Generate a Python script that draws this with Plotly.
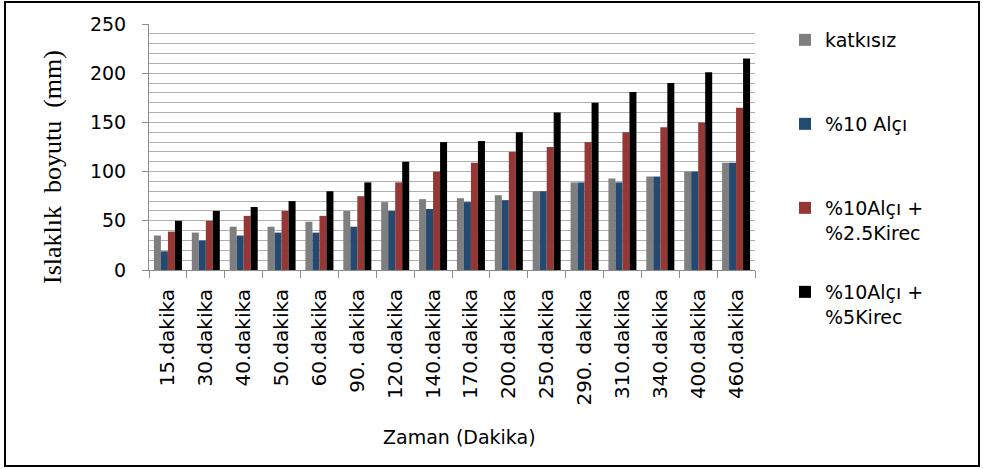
import plotly.graph_objects as go

categories = ["15.dakika", "30.dakika", "40.dakika", "50.dakika", "60.dakika", "90. dakika",
              "120.dakika", "140.dakika", "170.dakika", "200.dakika", "250.dakika", "290. dakika",
              "310.dakika", "340.dakika", "400.dakika", "460.dakika"]

katkisiz = [35, 38, 44, 44, 49, 60, 69, 72, 73, 76, 80, 89, 93, 95, 100, 109]
alci10 = [19, 30, 35, 38, 38, 44, 60, 62, 69, 71, 80, 89, 89, 95, 100, 109]
alci_kirec25 = [39, 50, 55, 60, 55, 75, 89, 100, 109, 120, 125, 130, 140, 145, 150, 165]
alci_kirec5 = [50, 60, 64, 70, 80, 89, 110, 130, 131, 140, 160, 170, 181, 190, 201, 215]

series_names = ["katkısız", "%10 Alçı", "%10Alçı +<br>%2.5Kirec", "%10Alçı +<br>%5Kirec"]
series_values = [katkisiz, alci10, alci_kirec25, alci_kirec5]
series_colors = ["#7f7f7f", "#254a72", "#953735", "#000000"]
legend_ids = ["legend", "legend2", "legend3", "legend4"]

W, H = 983, 469
L, R, T, B = 149, 755, 24, 270
pw, ph = R - L, B - T

def px_x(x):
    return (x - L) / pw

def px_y(y):
    return (B - y) / ph

fig = go.Figure()
for name, vals, col, lg in zip(series_names, series_values, series_colors, legend_ids):
    fig.add_trace(go.Bar(x=categories, y=vals, name=name, marker_color=col,
                         marker_line_width=0, legend=lg))

font_main = "DejaVu Sans"
legend_tops = [21, 105, 189, 273]
legend_common = dict(x=px_x(785), xanchor="left", yanchor="top", valign="top",
                     bgcolor="rgba(0,0,0,0)", borderwidth=0, itemwidth=30,
                     font=dict(family=font_main, size=19, color="#000000"))

layout_legends = {}
for lg, top in zip(legend_ids, legend_tops):
    layout_legends[lg] = dict(y=px_y(top), **legend_common)

fig.update_layout(
    width=W, height=H,
    margin=dict(l=L, r=W - R, t=T, b=H - B, autoexpand=False),
    paper_bgcolor="white", plot_bgcolor="white",
    barmode="group", bargap=0.26, bargroupgap=0,
    showlegend=True,
    font=dict(family=font_main, size=19, color="#000000"),
    xaxis=dict(type="category", tickson="boundaries", ticks="outside", ticklen=7,
               tickcolor="#8c8c8c", showline=True, linecolor="#8c8c8c", linewidth=1,
               tickangle=-90, showgrid=False, ticklabelstandoff=10,
               tickfont=dict(family=font_main, size=20, color="#000000")),
    yaxis=dict(range=[0, 250], dtick=50, tick0=0, ticks="outside", ticklen=6,
               tickcolor="#8c8c8c", showline=True, linecolor="#8c8c8c", linewidth=1,
               showgrid=True, gridcolor="#b0b0b0", gridwidth=1, zeroline=False,
               ticklabelstandoff=12,
               minor=dict(dtick=10, showgrid=True, gridcolor="#b0b0b0", gridwidth=1),
               tickfont=dict(family=font_main, size=19, color="#000000")),
    **layout_legends,
)

fig.add_annotation(text="Islaklık  boyutu  (mm)", textangle=-90, showarrow=False,
                   xref="paper", yref="paper", x=px_x(52), y=px_y(167),
                   xanchor="center", yanchor="middle",
                   font=dict(family="Liberation Serif", size=26, color="#000000"))
fig.add_annotation(text="Zaman (Dakika)", showarrow=False,
                   xref="paper", yref="paper", x=px_x(459), y=px_y(437),
                   xanchor="center", yanchor="middle",
                   font=dict(family=font_main, size=19, color="#000000"))

fig.add_shape(type="rect", xref="paper", yref="paper",
              x0=px_x(5), x1=px_x(979), y0=px_y(466), y1=px_y(2),
              line=dict(color="#000000", width=2), fillcolor="rgba(0,0,0,0)", layer="below")

fig.write_html("out.html", config={"displayModeBar": False},
               post_script="document.body.style.margin='0';document.body.style.overflow='hidden';")
